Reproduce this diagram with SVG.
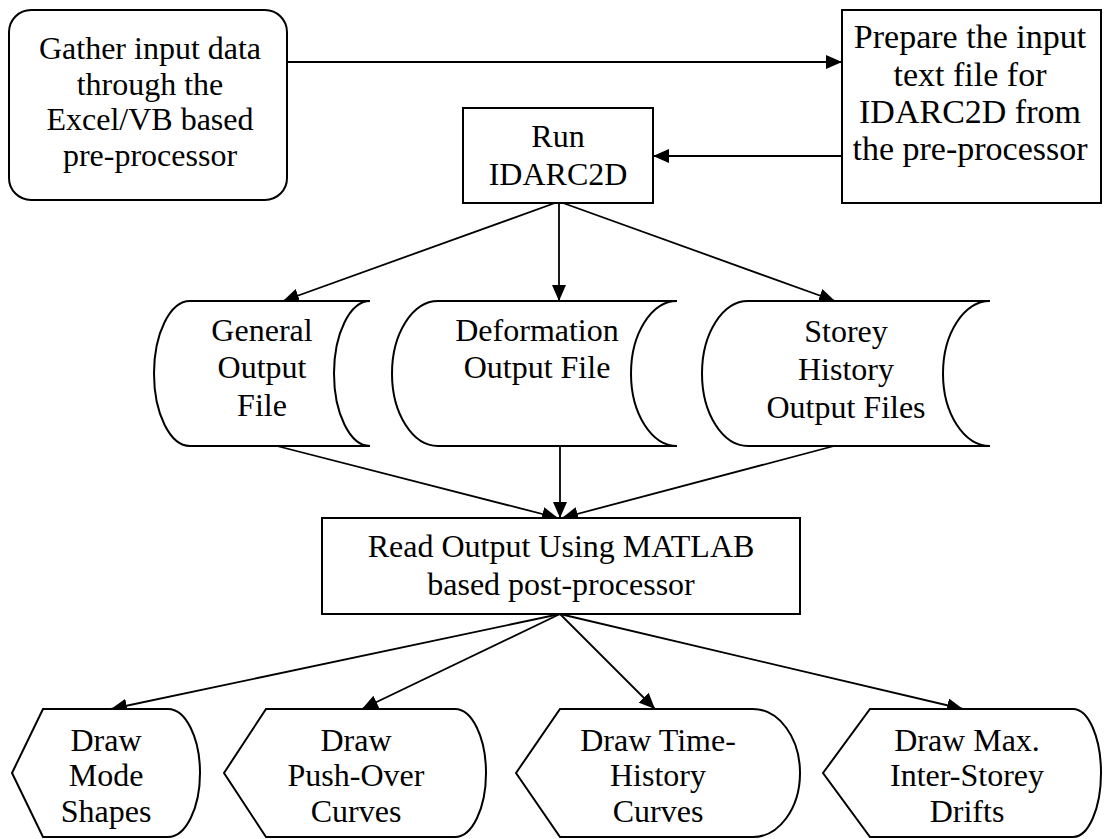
<svg xmlns="http://www.w3.org/2000/svg" width="1104" height="839" viewBox="0 0 1104 839">
<style>
.s{fill:#fff;stroke:#000;stroke-width:2}
.t{font-family:"Liberation Serif","Times New Roman",serif;font-size:32px;fill:#000;text-anchor:middle}
.tl{font-size:34px}
.c{fill:none;stroke:#000;stroke-width:1.8}
</style>
<defs>
<marker id="ah" markerUnits="userSpaceOnUse" markerWidth="17" markerHeight="14" refX="16" refY="7" orient="auto">
<path d="M0,0 L16,7 L0,14 Z" fill="#000"/>
</marker>
</defs>
<rect width="1104" height="839" fill="#fff"/>
<g id="connectors">
<path class="c" d="M287,62 L842,62" marker-end="url(#ah)"/>
<path class="c" d="M842,156 L653,156" marker-end="url(#ah)"/>
<path class="c" d="M555,203 L283,301" marker-end="url(#ah)"/>
<path class="c" d="M559,203 L559,301" marker-end="url(#ah)"/>
<path class="c" d="M563,203 L835,301" marker-end="url(#ah)"/>
<path class="c" d="M277,446 L558,518" marker-end="url(#ah)"/>
<path class="c" d="M560,446 L560,518" marker-end="url(#ah)"/>
<path class="c" d="M834,446 L562,518" marker-end="url(#ah)"/>
<path class="c" d="M560,614 L111,709" marker-end="url(#ah)"/>
<path class="c" d="M560,614 L362,709" marker-end="url(#ah)"/>
<path class="c" d="M560,614 L655,709" marker-end="url(#ah)"/>
<path class="c" d="M560,614 L963,709" marker-end="url(#ah)"/>
</g>
<g id="gather">
<rect class="s" x="9" y="10" width="278" height="190" rx="22"/>
<text class="t" x="150" y="59">Gather input data</text>
<text class="t" x="150" y="95">through the</text>
<text class="t" x="150" y="130">Excel/VB based</text>
<text class="t" x="150" y="166">pre-processor</text>
</g>
<g id="prepare">
<rect class="s" x="842" y="10" width="259" height="193"/>
<text class="t tl" x="970" y="48">Prepare the input</text>
<text class="t tl" x="970" y="86">text file for</text>
<text class="t tl" x="970" y="123">IDARC2D from</text>
<text class="t tl" x="970" y="160">the pre-processor</text>
</g>
<g id="run">
<rect class="s" x="463" y="108" width="190" height="95"/>
<text class="t" x="558" y="147">Run</text>
<text class="t" x="558" y="185">IDARC2D</text>
</g>
<g id="general">
<path class="s" d="M190,301 L370,301 A36,72.5 0 0 0 370,446 L190,446 A36,72.5 0 0 1 190,301 Z"/>
<text class="t" x="262" y="341">General</text>
<text class="t" x="262" y="378">Output</text>
<text class="t" x="262" y="416">File</text>
</g>
<g id="deformation">
<path class="s" d="M438,301 L677,301 A46,72.5 0 0 0 677,446 L438,446 A46,72.5 0 0 1 438,301 Z"/>
<text class="t" x="537" y="341">Deformation</text>
<text class="t" x="537" y="378">Output File</text>
</g>
<g id="storey">
<path class="s" d="M748,301 L990,301 A47,72.5 0 0 0 990,446 L748,446 A46,72.5 0 0 1 748,301 Z"/>
<text class="t" x="846" y="342">Storey</text>
<text class="t" x="846" y="380">History</text>
<text class="t" x="846" y="418">Output Files</text>
</g>
<g id="read">
<rect class="s" x="322" y="518" width="478" height="96"/>
<text class="t" x="561" y="557">Read Output Using MATLAB</text>
<text class="t" x="561" y="595">based post-processor</text>
</g>
<g id="mode">
<path class="s" d="M12,773 L43,709 L168,709 A32,64 0 0 1 168,837 L43,837 Z"/>
<text class="t" x="106" y="751">Draw</text>
<text class="t" x="106" y="786">Mode</text>
<text class="t" x="106" y="822">Shapes</text>
</g>
<g id="pushover">
<path class="s" d="M224,773 L266,709 L455,709 A31,64 0 0 1 455,837 L266,837 Z"/>
<text class="t" x="356" y="751">Draw</text>
<text class="t" x="356" y="786">Push-Over</text>
<text class="t" x="356" y="822">Curves</text>
</g>
<g id="timehistory">
<path class="s" d="M516,773 L560,709 L753,709 A47,64 0 0 1 753,837 L560,837 Z"/>
<text class="t" x="658" y="751">Draw Time-</text>
<text class="t" x="658" y="786">History</text>
<text class="t" x="658" y="822">Curves</text>
</g>
<g id="maxdrift">
<path class="s" d="M823,773 L870,709 L1073,709 A28,64 0 0 1 1073,837 L870,837 Z"/>
<text class="t" x="967" y="751">Draw Max.</text>
<text class="t" x="967" y="786">Inter-Storey</text>
<text class="t" x="967" y="822">Drifts</text>
</g>
</svg>
